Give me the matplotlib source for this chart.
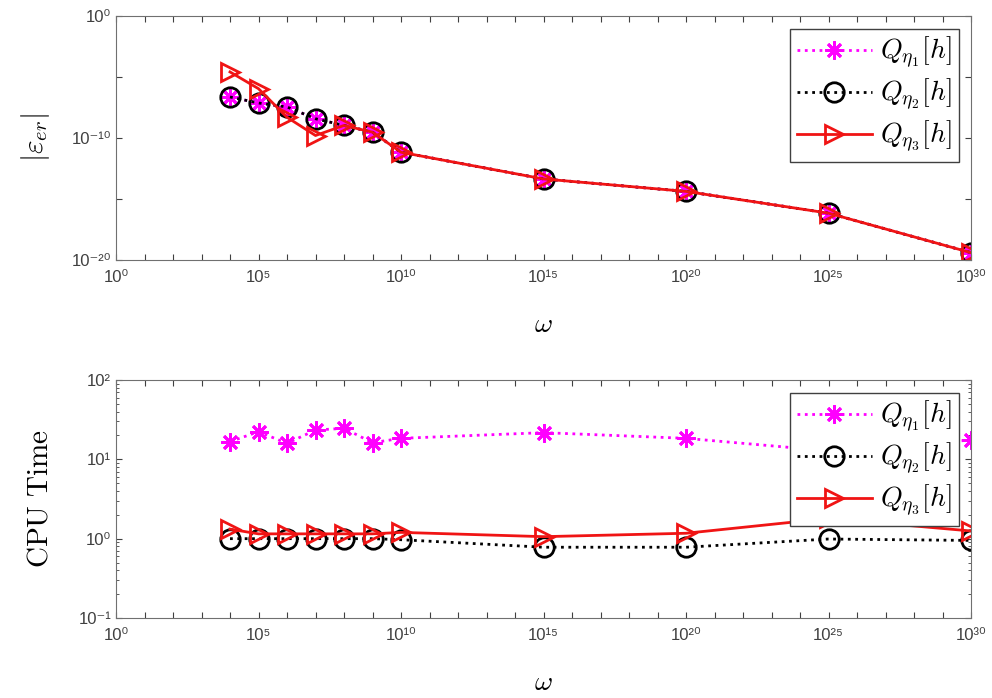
import numpy as np
import matplotlib
matplotlib.use('Agg')
import matplotlib.pyplot as plt
from matplotlib.ticker import FixedLocator, FixedFormatter, LogLocator, NullFormatter

plt.rcParams['mathtext.fontset'] = 'cm'
plt.rcParams['font.family'] = ['Liberation Sans', 'DejaVu Sans']

# omega values (x axis)
omega = [1e4, 1e5, 1e6, 1e7, 1e8, 1e9, 1e10, 1e15, 1e20, 1e25, 1e30]

# absolute error |eps_er|
err_eta1 = [2.3e-7, 7.4e-8, 3.5e-8, 3.8e-9, 1.07e-9, 3.0e-10, 6.8e-12,
            4.4e-14, 4.2e-15, 6.9e-17, 4.0e-20]
err_eta2 = [2.3e-7, 7.4e-8, 3.5e-8, 3.8e-9, 1.07e-9, 3.0e-10, 6.8e-12,
            4.4e-14, 4.2e-15, 6.9e-17, 4.0e-20]
err_eta3 = [2.6e-5, 1.1e-6, 5.0e-9, 1.6e-10, 1.07e-9, 3.0e-10, 6.8e-12,
            4.4e-14, 4.2e-15, 6.9e-17, 4.0e-20]

# CPU time
cpu_eta1 = [16.7, 22.3, 15.9, 23.4, 24.6, 16.2, 18.4, 21.7, 18.4, 12.8, 17.5]
cpu_eta2 = [1.0, 1.0, 1.0, 1.0, 1.0, 1.0, 0.97, 0.78, 0.78, 0.99, 0.95]
cpu_eta3 = [1.32, 1.15, 1.15, 1.15, 1.15, 1.15, 1.2, 1.06, 1.17, 1.8, 1.25]

labels = [r'$Q_{\eta_1}[h]$', r'$Q_{\eta_2}[h]$', r'$Q_{\eta_3}[h]$']
axcol = '#404040'

sup_map = str.maketrans('-0123456789', '⁻⁰¹²³⁴⁵⁶⁷⁸⁹')


def sup(k):
    return '10' + str(k).translate(sup_map)


def draw(ax, y1, y2, y3):
    ax.plot(omega, y1, ls=':', color='#ff00ff', lw=2, marker=(8, 2, 0),
            ms=13, mew=2, label=labels[0])
    ax.plot(omega, y2, ls=':', color='black', lw=2, marker='o', ms=14,
            mew=2, mfc='none', label=labels[1])
    ax.plot(omega, y3, ls='-', color='#f01414', lw=2, marker='>', ms=13,
            mew=2, mfc='none', label=labels[2])
    ax.set_xscale('log')
    ax.set_yscale('log')
    ax.set_xlim(1e0, 1e30)
    dec = [10.0 ** k for k in range(0, 31)]
    ax.xaxis.set_major_locator(FixedLocator(dec))
    ax.xaxis.set_major_formatter(FixedFormatter(
        [sup(k) if k % 5 == 0 else '' for k in range(0, 31)]))
    ax.xaxis.set_minor_locator(FixedLocator([]))
    ax.tick_params(which='both', direction='in', top=True, right=True,
                   colors=axcol, labelsize=12, length=4)
    ax.tick_params(axis='x', pad=7)
    ax.tick_params(which='minor', length=2)
    for s in ax.spines.values():
        s.set_color('#707070')
    ax.set_xlabel(r'$\omega$', fontsize=20, labelpad=20)
    leg = ax.legend(loc='upper right', fontsize=20, fancybox=False,
                    framealpha=1, edgecolor='#404040', handlelength=2.7,
                    borderpad=0.25, labelspacing=0.2, handletextpad=0.3,
                    borderaxespad=0.45)
    leg.get_frame().set_linewidth(1.0)


fig = plt.figure(figsize=(9.92, 6.98), dpi=100)
ax1 = fig.add_axes([116 / 992, 1 - 260 / 698, 855 / 992, 244 / 698])
ax2 = fig.add_axes([116 / 992, 1 - 618 / 698, 855 / 992, 238 / 698])

draw(ax1, err_eta1, err_eta2, err_eta3)
ax1.set_ylim(1e-20, 1e0)
ax1.yaxis.set_major_locator(FixedLocator([1e-20, 1e-15, 1e-10, 1e-5, 1e0]))
ax1.yaxis.set_major_formatter(FixedFormatter([sup(-20), '', sup(-10), '', sup(0)]))
ax1.yaxis.set_minor_locator(FixedLocator([]))
ax1.set_ylabel(r'$|\varepsilon_{er}|$', fontsize=21, labelpad=14)

draw(ax2, cpu_eta1, cpu_eta2, cpu_eta3)
ax2.set_ylim(1e-1, 1e2)
ax2.yaxis.set_major_locator(FixedLocator([1e-1, 1e0, 1e1, 1e2]))
ax2.yaxis.set_major_formatter(FixedFormatter([sup(-1), sup(0), sup(1), sup(2)]))
ax2.yaxis.set_minor_locator(LogLocator(base=10, subs=np.arange(2, 10)))
ax2.yaxis.set_minor_formatter(NullFormatter())
ax2.set_ylabel(r'$\mathrm{CPU\ Time}$', fontsize=21, labelpad=18)

fig.savefig('out.png', dpi=100)
